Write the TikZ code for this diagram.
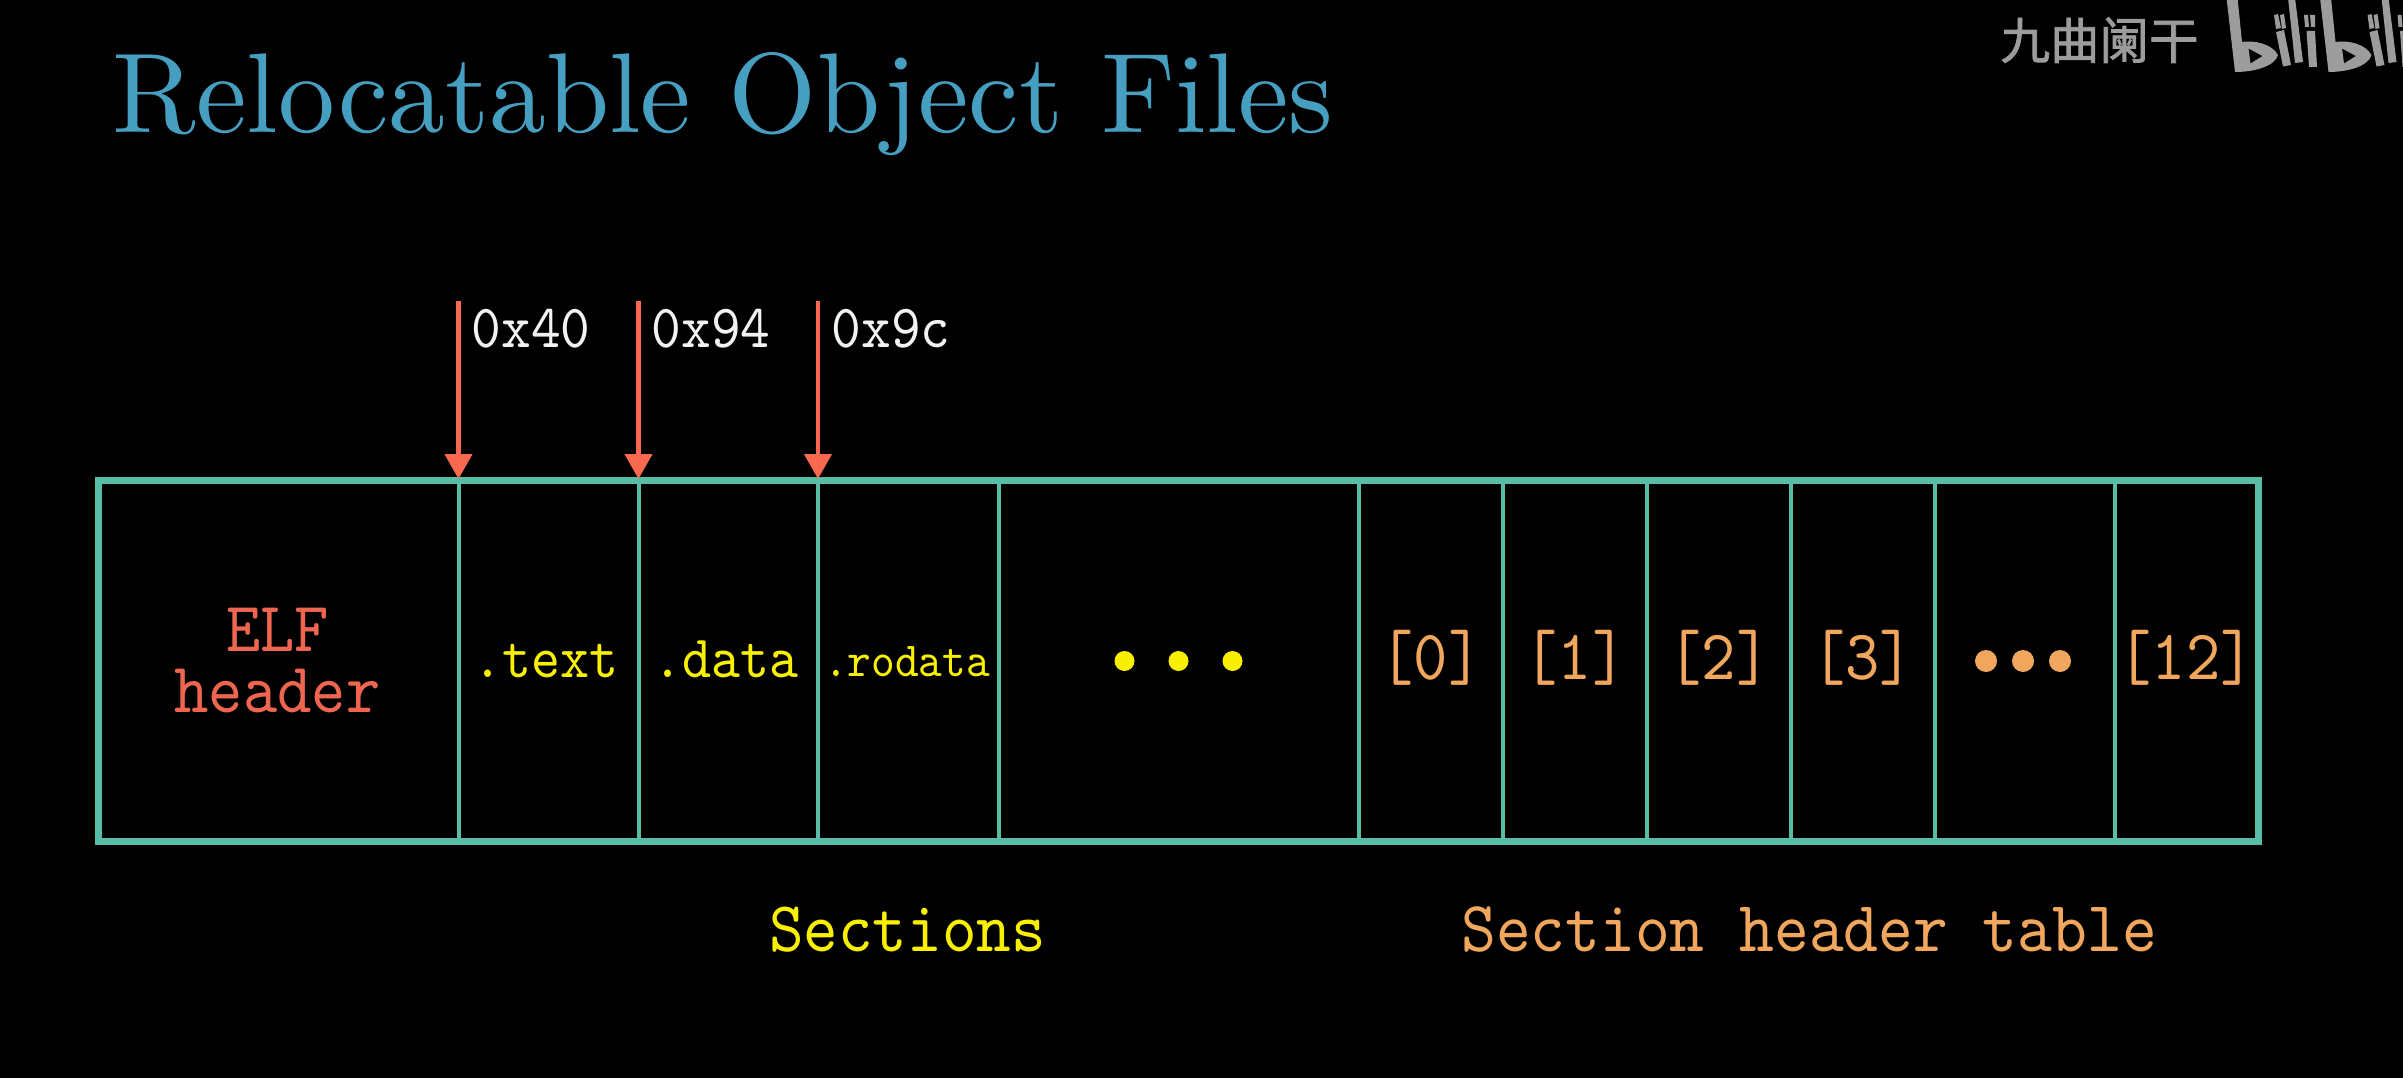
\documentclass[tikz,border=0pt]{standalone}
\usepackage{fontspec}
\newfontfamily\cjk[FakeBold=1.5]{Noto Sans CJK SC}
\newfontfamily\ttlfont{lmroman10-regular.otf}
\newfontfamily\mono[FakeStretch=0.92]{lmmono10-regular.otf}
\usetikzlibrary{arrows.meta}
\definecolor{bg}{HTML}{000000}
\definecolor{tealc}{HTML}{58BDA5}
\definecolor{redc}{HTML}{F9694F}
\definecolor{redt}{HTML}{EE6650}
\definecolor{bluet}{HTML}{469FC0}
\definecolor{yelc}{HTML}{F8F000}
\definecolor{orac}{HTML}{F0A65C}
\definecolor{whitet}{HTML}{F2F2F2}
\definecolor{wm}{HTML}{9C9C9C}
\newcommand{\tsize}[1]{\fontsize{#1}{#1}\selectfont}
\tikzset{
  x=1pt,y=-1pt,
  lbl/.style={inner sep=0pt,outer sep=0pt,anchor=base,font=\mono\tsize{60}},
  addr/.style={lbl,font=\mono\tsize{61.5}},
  idx/.style={lbl,font=\mono\tsize{71}},
  big/.style={lbl,font=\mono\tsize{71.5}},
  divider/.style={draw=tealc,line width=4pt},
  frame/.style={draw=tealc,line width=7pt},
  ptr/.style={draw=redc,line width=4.5pt,-{Triangle[length=25pt,width=27pt]}},
  dot/.style={circle,inner sep=0pt,minimum size=20pt},
  wmshape/.style={fill=wm,even odd rule},
}
\newcommand{\biliunit}{%
  % b
  \fill[wmshape] (2226.5,-2) -- (2237.5,-2) -- (2242,42) .. controls (2255,40) and (2272,44) .. (2278,55)
     .. controls (2275,66) and (2255,72) .. (2235,72) -- cycle
     (2248.5,48.5) -- (2262.5,56) -- (2250.5,63.5) -- cycle;
  % i
  \fill[wm] (2274,15) -- (2278,14) -- (2281,28) -- (2276,29) -- cycle;
  \fill[wm] (2280,15) -- (2284,14) -- (2286,28) -- (2282,29) -- cycle;
  \fill[wm] (2276,32) -- (2284,30) -- (2291,65) -- (2283,66.5) -- cycle;
  % l
  \fill[wm] (2288,-2) -- (2295,-2) -- (2303,62) -- (2295,63) -- cycle;
  % i
  \fill[wm] (2304,15) -- (2308,15) -- (2309,27) -- (2305,27) -- cycle;
  \fill[wm] (2310,15) -- (2315,15) -- (2315,27) -- (2311,27) -- cycle;
  \fill[wm] (2306.5,31) -- (2315,31) -- (2317,67) -- (2309,67) -- cycle;
}
\begin{document}
\begin{tikzpicture}
\useasboundingbox (0,0) rectangle (2403,1078);
\clip (0,0) rectangle (2403,1078);
\fill[bg] (0,0) rectangle (2403,1078);

% title
\node[lbl,font=\ttlfont\tsize{113.5},text=bluet] (title) at (723,133) {Relocatable Object Files};

% watermark
\node[inner sep=0pt,anchor=base,font=\cjk\tsize{49.5},text=wm] (wmark) at (2099.5,59) {九曲阑干};
\biliunit
\begin{scope}[xshift=93.5pt]\biliunit\end{scope}

% divider ends
\foreach \n/\x in {d1/458.5,d2/638.5,d3/818,d4/999,d5/1358.5,d6/1503,d7/1647,d8/1791,d9/1935,d10/2115}{
  \coordinate (\n t) at (\x,480.5);
  \coordinate (\n b) at (\x,841);
  \draw[divider] (\n t) -- (\n b);
}
\coordinate (fa) at (98.5,480.5);
\coordinate (fb) at (2258.5,841);
\draw[frame] (fa) rectangle (fb);

% arrows
\foreach \n/\x in {1/458.5,2/638.5,3/818}{
  \coordinate (s\n) at (\x,301);
  \coordinate (e\n) at (\x,479);
  \draw[ptr] (s\n) -- (e\n);
}
\node[addr,text=whitet] (a1) at (531,347) {0x40};
\node[addr,text=whitet] (a2) at (711,347) {0x94};
\node[addr,text=whitet] (a3) at (891,347) {0x9c};

% cells
\node[lbl,font=\mono\fontsize{71}{61}\selectfont,align=center,text=redt] (elf) at (277.5,712) {ELF\\header};
\node[lbl,text=yelc] (txt) at (546,677) {.text};
\node[lbl,text=yelc] (dat) at (726,677) {.data};
\node[lbl,text=yelc,font=\mono\tsize{49}] (rod) at (907,676) {.rodata};
\node[dot,fill=yelc] (y1) at (1124.5,661) {};
\node[dot,fill=yelc] (y2) at (1178.5,661) {};
\node[dot,fill=yelc] (y3) at (1232.5,661) {};

\node[idx,text=orac] (h0) at (1431,679) {[0]};
\node[idx,text=orac] (h1) at (1575,679) {[1]};
\node[idx,text=orac] (h2) at (1719,679) {[2]};
\node[idx,text=orac] (h3) at (1862.5,679) {[3]};
\node[dot,fill=orac,minimum size=22pt] (o1) at (1986,661) {};
\node[dot,fill=orac,minimum size=22pt] (o2) at (2023,661) {};
\node[dot,fill=orac,minimum size=22pt] (o3) at (2060,661) {};
\node[idx,text=orac] (h12) at (2186,679) {[12]};

\node[big,text=yelc] (sec) at (907.5,951) {Sections};
\node[big,font=\mono\tsize{72},text=orac] (sht) at (1809,951) {Section header table};
\end{tikzpicture}
\end{document}
